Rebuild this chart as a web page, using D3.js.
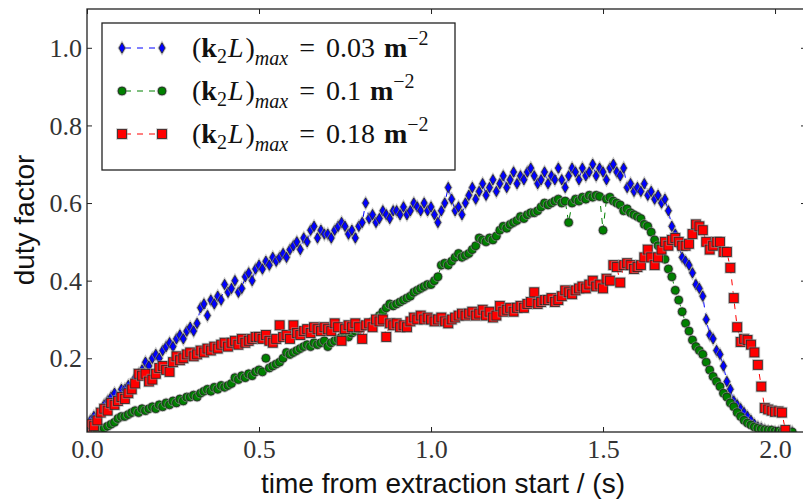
<!DOCTYPE html>
<html>
<head>
<meta charset="utf-8">
<script src="https://cdn.jsdelivr.net/npm/d3@7"></script>
<style>
  html, body { margin: 0; padding: 0; background: #fff; }
  svg { display: block; }
</style>
</head>
<body>
<svg id="chart" width="803" height="501"></svg>
<script>
// ---------------- data ----------------
const timeStart = 0.0;
const timeStep = 0.01;

const blueValues = [
  0.03,0.04,0.05,0.05,0.06,0.08,0.09,0.10,0.11,0.10,
  0.12,0.12,0.13,0.12,0.15,0.16,0.17,0.19,0.18,0.20,
  0.21,0.20,0.22,0.23,0.24,0.23,0.25,0.26,0.25,0.27,
  0.28,0.27,0.29,0.33,0.34,0.31,0.35,0.34,0.36,0.35,
  0.39,0.37,0.38,0.40,0.37,0.38,0.41,0.42,0.40,0.43,
  0.44,0.43,0.45,0.44,0.46,0.45,0.46,0.47,0.46,0.48,
  0.49,0.50,0.48,0.51,0.50,0.53,0.54,0.51,0.53,0.52,
  0.52,0.51,0.53,0.54,0.55,0.54,0.52,0.53,0.51,0.54,
  0.55,0.60,0.56,0.57,0.55,0.56,0.58,0.57,0.56,0.58,
  0.58,0.57,0.59,0.57,0.58,0.60,0.59,0.58,0.60,0.58,
  0.59,0.57,0.55,0.58,0.60,0.64,0.61,0.58,0.59,0.57,
  0.60,0.62,0.64,0.61,0.63,0.65,0.62,0.64,0.66,0.63,
  0.65,0.67,0.64,0.66,0.68,0.65,0.67,0.66,0.68,0.69,
  0.67,0.65,0.66,0.68,0.65,0.67,0.66,0.69,0.66,0.64,
  0.67,0.69,0.68,0.66,0.69,0.67,0.68,0.70,0.67,0.69,
  0.68,0.66,0.69,0.70,0.68,0.67,0.69,0.64,0.65,0.63,
  0.64,0.63,0.65,0.62,0.63,0.61,0.62,0.60,0.61,0.58,
  0.54,0.52,0.49,0.46,0.45,0.44,0.42,0.39,0.38,0.36,
  0.30,0.26,0.25,0.22,0.21,0.18,0.14,0.12,0.09,0.08,
  0.07,0.06,0.05,0.04,0.03,0.023,0.02,0.015,0.012,0.01,
  0.01,0.01,0.01,0.01,0.01,0.01
];

const greenValues = [
  0.01,0.01,0.01,0.015,0.02,0.02,0.025,0.03,0.035,0.045,
  0.05,0.05,0.055,0.06,0.065,0.06,0.07,0.065,0.07,0.075,
  0.07,0.08,0.075,0.085,0.08,0.09,0.085,0.095,0.09,0.10,
  0.10,0.105,0.10,0.11,0.115,0.12,0.115,0.125,0.12,0.13,
  0.125,0.13,0.135,0.15,0.145,0.155,0.15,0.16,0.155,0.165,
  0.17,0.165,0.20,0.175,0.18,0.185,0.19,0.20,0.215,0.21,
  0.215,0.22,0.225,0.23,0.235,0.23,0.24,0.235,0.24,0.245,
  0.23,0.24,0.245,0.25,0.255,0.26,0.255,0.265,0.27,0.275,
  0.28,0.285,0.29,0.295,0.30,0.31,0.32,0.33,0.34,0.335,
  0.34,0.345,0.35,0.355,0.36,0.37,0.375,0.38,0.385,0.39,
  0.39,0.40,0.41,0.44,0.445,0.44,0.45,0.46,0.47,0.46,
  0.465,0.47,0.48,0.49,0.51,0.505,0.50,0.51,0.505,0.515,
  0.53,0.54,0.535,0.545,0.55,0.555,0.565,0.56,0.57,0.575,
  0.575,0.58,0.59,0.60,0.595,0.60,0.605,0.61,0.60,0.605,
  0.55,0.60,0.61,0.605,0.615,0.61,0.62,0.615,0.62,0.617,
  0.53,0.61,0.615,0.605,0.60,0.595,0.58,0.585,0.575,0.57,
  0.565,0.56,0.545,0.54,0.525,0.505,0.49,0.47,0.455,0.43,
  0.41,0.375,0.35,0.32,0.29,0.27,0.247,0.23,0.22,0.21,
  0.19,0.17,0.153,0.14,0.127,0.11,0.10,0.085,0.075,0.06,
  0.05,0.04,0.033,0.028,0.023,0.02,0.018,0.016,0.015,0.015,
  0.012,0.012,0.01,0.01,0.01,0.01
];

const redValues = [
  0.02,0.03,0.025,0.04,0.06,0.07,0.065,0.085,0.08,0.09,
  0.10,0.095,0.11,0.12,0.135,0.16,0.155,0.16,0.14,0.145,
  0.16,0.175,0.18,0.17,0.165,0.19,0.205,0.195,0.20,0.21,
  0.215,0.205,0.21,0.22,0.215,0.225,0.22,0.23,0.225,0.235,
  0.24,0.23,0.24,0.245,0.235,0.25,0.24,0.245,0.25,0.255,
  0.255,0.25,0.26,0.245,0.24,0.25,0.285,0.255,0.26,0.25,
  0.285,0.265,0.26,0.27,0.275,0.265,0.28,0.275,0.27,0.28,
  0.275,0.27,0.29,0.28,0.245,0.275,0.285,0.28,0.29,0.28,
  0.25,0.285,0.29,0.28,0.30,0.295,0.30,0.255,0.29,0.285,
  0.29,0.28,0.285,0.28,0.295,0.305,0.30,0.31,0.30,0.305,
  0.30,0.295,0.30,0.305,0.295,0.29,0.30,0.305,0.31,0.315,
  0.31,0.315,0.32,0.31,0.315,0.325,0.31,0.32,0.305,0.31,
  0.335,0.32,0.325,0.33,0.32,0.33,0.335,0.33,0.34,0.345,
  0.37,0.34,0.345,0.35,0.35,0.355,0.345,0.35,0.36,0.375,
  0.37,0.365,0.375,0.38,0.385,0.38,0.39,0.40,0.385,0.39,
  0.38,0.405,0.40,0.44,0.435,0.395,0.44,0.445,0.44,0.43,
  0.435,0.44,0.46,0.48,0.46,0.44,0.46,0.48,0.50,0.49,
  0.505,0.51,0.50,0.49,0.49,0.495,0.52,0.545,0.54,0.53,
  0.50,0.48,0.49,0.50,0.50,0.474,0.474,0.433,0.355,0.28,
  0.242,0.25,0.247,0.235,0.215,0.183,0.127,0.072,0.068,0.065,
  0.062,0.063,0.06,0.015
];

const xTickValues = [0.0, 0.5, 1.0, 1.5, 2.0];
const yTickValues = [0.2, 0.4, 0.6, 0.8, 1.0];
const legendLabels = ["0.03", "0.1", "0.18"];
const seriesColors = ["#0000ff", "#008000", "#ff0000"];
const seriesMarkers = ["thinDiamond", "circle", "square"];
const xLabel = "time from extraction start / (s)";
const yLabel = "duty factor";

// ---------------- layout ----------------
const svg = d3.select("#chart");
const pLeft = 87, pRight = 806, pTop = 9, pBottom = 432;
const x = d3.scaleLinear().domain([0, 2.09]).range([pLeft, pRight]);
const y = d3.scaleLinear().domain([0.01, 1.1]).range([pBottom, pTop]);

const series = [blueValues, greenValues, redValues].map((vals, k) => ({
  color: seriesColors[k],
  marker: seriesMarkers[k],
  points: vals.map((v, i) => ({ t: timeStart + i * timeStep, v }))
}));

svg.append("defs").append("clipPath").attr("id", "clip")
  .append("rect").attr("x", pLeft).attr("y", pTop)
  .attr("width", pRight - pLeft).attr("height", pBottom - pTop);

const plot = svg.append("g").attr("clip-path", "url(#clip)");

function shapeFor(sel, type) {
  if (type === "square") {
    return sel.append("rect").attr("x", -4.5).attr("y", -4.5).attr("width", 9).attr("height", 9);
  } else if (type === "circle") {
    return sel.append("circle").attr("r", 4);
  }
  return sel.append("path").attr("d", "M0,-5.2L3,0L0,5.2L-3,0Z");
}

function drawMarker(sel, type, color) {
  // soft grey halo, then the filled marker with a dark edge
  shapeFor(sel, type).attr("fill", "none").attr("stroke", "#999").attr("stroke-width", 2.6).attr("stroke-opacity", 0.55);
  shapeFor(sel, type).attr("fill", color).attr("stroke", "#222").attr("stroke-width", 0.9).attr("stroke-opacity", 0.85);
}

const line = d3.line().x(d => x(d.t)).y(d => y(d.v));

series.forEach(s => {
  plot.append("path").datum(s.points)
    .attr("d", line).attr("fill", "none")
    .attr("stroke", s.color).attr("stroke-width", 1)
    .attr("stroke-dasharray", "6,6");
  const g = plot.append("g");
  s.points.forEach(p => {
    const m = g.append("g").attr("transform", `translate(${x(p.t)},${y(p.v)})`);
    drawMarker(m, s.marker, s.color);
  });
});

// ---------------- axes / frame ----------------
const frameColor = "#222";
svg.append("rect").attr("x", pLeft).attr("y", pTop)
  .attr("width", pRight - pLeft).attr("height", pBottom - pTop)
  .attr("fill", "none").attr("stroke", frameColor).attr("stroke-width", 1.3);

const tickFont = "'Liberation Serif', 'Times New Roman', serif";
const labelFont = "'Liberation Sans', Arial, sans-serif";

const xAxisB = d3.axisBottom(x).tickValues(xTickValues).tickSizeInner(-5).tickSizeOuter(0).tickFormat(d3.format(".1f"));
const gxb = svg.append("g").attr("transform", `translate(0,${pBottom})`).call(xAxisB);
gxb.select(".domain").remove();
gxb.selectAll("line").attr("stroke", frameColor);
gxb.selectAll("text").attr("dy", null).attr("y", 26)
  .style("font-family", tickFont).style("font-size", "26px").attr("fill", "#333");

const xAxisT = d3.axisTop(x).tickValues(xTickValues).tickSizeInner(-5).tickSizeOuter(0).tickFormat("");
const gxt = svg.append("g").attr("transform", `translate(0,${pTop})`).call(xAxisT);
gxt.select(".domain").remove();
gxt.selectAll("line").attr("stroke", frameColor);

const yAxisL = d3.axisLeft(y).tickValues(yTickValues).tickSizeInner(-5).tickSizeOuter(0).tickFormat(d3.format(".1f"));
const gyl = svg.append("g").attr("transform", `translate(${pLeft},0)`).call(yAxisL);
gyl.select(".domain").remove();
gyl.selectAll("line").attr("stroke", frameColor);
gyl.selectAll("text").attr("x", -5).attr("dy", "0.33em")
  .style("font-family", tickFont).style("font-size", "26px").attr("fill", "#333");

const yAxisR = d3.axisRight(y).tickValues(yTickValues).tickSizeInner(-5).tickSizeOuter(0).tickFormat("");
const gyr = svg.append("g").attr("transform", `translate(${pRight},0)`).call(yAxisR);
gyr.select(".domain").remove();
gyr.selectAll("line").attr("stroke", frameColor);

svg.append("text").attr("x", 443).attr("y", 493)
  .attr("text-anchor", "middle")
  .style("font-family", labelFont).style("font-size", "28px")
  .attr("fill", "#111").text(xLabel);

svg.append("text").attr("transform", "translate(34,220) rotate(-90)")
  .attr("text-anchor", "middle")
  .style("font-family", labelFont).style("font-size", "28px")
  .attr("fill", "#111").text(yLabel);

// ---------------- legend ----------------
const lg = svg.append("g");
lg.append("rect").attr("x", 102).attr("y", 23).attr("width", 353).attr("height", 147)
  .attr("fill", "#fff").attr("stroke", frameColor).attr("stroke-width", 1.3);

const rowY = [48, 91, 134];
series.forEach((s, k) => {
  const yy = rowY[k];
  lg.append("line").attr("x1", 122).attr("x2", 162).attr("y1", yy).attr("y2", yy)
    .attr("stroke", s.color).attr("stroke-width", 1).attr("stroke-dasharray", "6,6")
    .attr("stroke-dashoffset", -3);
  [122, 162].forEach(mx => {
    const m = lg.append("g").attr("transform", `translate(${mx},${yy})`);
    drawMarker(m, s.marker, s.color);
  });
  const t = lg.append("text").attr("x", 192).attr("y", yy + 9)
    .style("font-family", tickFont).style("font-size", "28px").attr("fill", "#111");
  t.append("tspan").text("(");
  t.append("tspan").style("font-weight", "bold").text("k");
  t.append("tspan").attr("dy", 6).style("font-size", "20px").text("2");
  t.append("tspan").attr("dy", -6).attr("dx", 1).style("font-style", "italic").text("L");
  t.append("tspan").attr("dx", 2).text(")");
  t.append("tspan").attr("dy", 8).style("font-style", "italic").style("font-size", "20px").text("max");
  t.append("tspan").attr("dy", -8).attr("dx", 11).text("=");
  t.append("tspan").attr("dx", 11).text(legendLabels[k]);
  t.append("tspan").attr("dx", 9).style("font-weight", "bold").text("m");
  t.append("tspan").attr("dy", -12).style("font-size", "20px").text("\u22122");
});
</script>
</body>
</html>
